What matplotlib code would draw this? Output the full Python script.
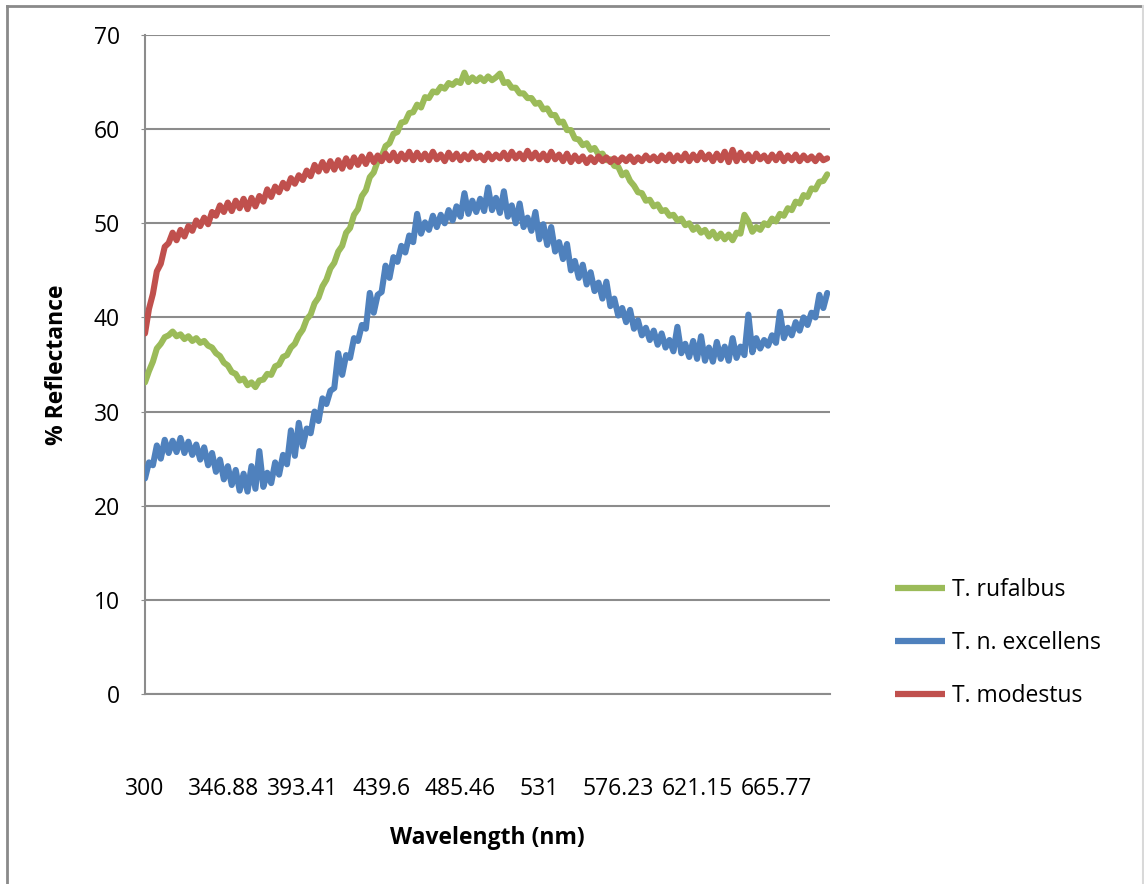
import matplotlib
matplotlib.use("Agg")
import matplotlib.pyplot as plt
from matplotlib.lines import Line2D
import numpy as np

plt.rcParams['font.family'] = ['Open Sans', 'DejaVu Sans']

# Category-axis labels (every 20th sample of the spectrometer grid)
tick_labels = ["300", "346.88", "393.41", "439.6", "485.46", "531",
               "576.23", "621.15", "665.77"]
samples_per_label = 20
n_categories = 173.7

series_names = ["T. rufalbus", "T. n. excellens", "T. modestus"]
series_colors = ["#9BBB59", "#4F81BD", "#C0504D"]

rufalbus = [
    33.1, 34.3, 35.3, 36.7, 37.2, 37.9, 38.1, 38.5, 38.0, 38.2,
    37.7, 38.0, 37.5, 37.8, 37.3, 37.5, 37.0, 36.8, 36.2, 35.9,
    35.2, 34.9, 34.2, 34.0, 33.3, 33.5, 32.8, 33.1, 32.6, 33.3,
    33.4, 34.0, 33.9, 34.8, 35.0, 35.8, 36.0, 36.8, 37.2, 38.1,
    38.7, 39.8, 40.3, 41.5, 42.1, 43.3, 44.0, 45.2, 45.8, 47.0,
    47.6, 49.0, 49.5, 50.9, 51.5, 52.9, 53.5, 54.9, 55.4, 56.6,
    57.1, 58.2, 58.5, 59.5, 59.7, 60.7, 60.8, 61.7, 61.8, 62.6,
    62.3, 63.4, 63.3, 64.0, 63.9, 64.5, 64.3, 64.9, 64.7, 65.1,
    64.9, 66.0, 65.0, 65.5, 65.1, 65.5, 65.1, 65.6, 65.2, 65.5,
    65.9, 64.9, 65.0, 64.4, 64.4, 63.8, 63.8, 63.3, 63.3, 62.7,
    62.8, 62.1, 62.2, 61.5, 61.5, 60.7, 60.8, 59.9, 59.9, 59.0,
    58.9, 58.3, 58.5, 57.8, 58.0, 57.3, 57.4, 56.7, 56.8, 56.1,
    56.0, 55.1, 55.4, 54.5, 54.0, 53.3, 53.2, 52.4, 52.5, 51.8,
    52.0, 51.3, 51.4, 50.8, 50.9, 50.3, 50.5, 49.8, 50.0, 49.3,
    49.6, 49.0, 49.3, 48.6, 49.1, 48.4, 48.9, 48.3, 48.8, 48.2,
    49.0, 48.9, 50.9, 50.2, 49.1, 49.6, 49.3, 50.0, 49.8, 50.5,
    50.2, 51.0, 50.8, 51.6, 51.4, 52.3, 52.1, 53.0, 52.8, 53.7,
    53.6, 54.4, 54.5, 55.2,
]

excellens = [
    22.9, 24.6, 24.3, 26.4, 25.0, 27.0, 25.6, 26.9, 25.7, 27.2,
    25.6, 26.8, 25.4, 26.5, 24.9, 26.2, 24.3, 25.6, 23.6, 24.9,
    22.8, 24.2, 22.2, 23.8, 21.6, 23.4, 21.5, 24.2, 21.8, 25.8,
    22.0, 23.5, 22.4, 24.6, 23.3, 25.4, 24.4, 28.0, 25.3, 28.8,
    26.3, 28.2, 27.7, 30.0, 29.0, 31.4, 30.8, 32.2, 32.5, 36.2,
    33.9, 36.0, 35.7, 37.8, 37.5, 39.2, 38.8, 42.6, 40.5, 42.4,
    42.7, 45.5, 44.2, 46.4, 45.9, 47.6, 46.9, 48.7, 48.0, 51.0,
    48.9, 50.1, 49.3, 50.8, 49.6, 50.9, 50.0, 51.4, 50.3, 51.8,
    50.7, 53.2, 51.0, 52.4, 51.2, 52.6, 51.3, 53.8, 51.4, 52.7,
    51.1, 53.4, 50.7, 51.9, 50.0, 52.1, 49.6, 50.6, 49.2, 51.2,
    48.3, 49.9, 47.7, 49.6, 47.0, 48.0, 46.2, 47.8, 45.0, 46.0,
    44.2, 45.6, 43.5, 44.8, 42.8, 43.7, 42.0, 43.8, 41.2, 42.0,
    40.2, 41.0, 39.5, 40.8, 38.8, 39.7, 38.1, 38.9, 37.6, 38.6,
    37.1, 38.3, 36.8, 37.6, 36.4, 39.0, 36.2, 37.2, 35.8, 37.5,
    35.6, 38.0, 35.4, 36.8, 35.3, 37.4, 35.6, 36.9, 35.4, 37.8,
    35.7, 36.9, 36.0, 40.3, 36.3, 37.8, 36.7, 37.6, 37.0, 38.1,
    37.3, 40.6, 37.8, 38.9, 38.1, 39.5, 38.6, 40.0, 39.2, 40.5,
    40.0, 42.4, 41.0, 42.6,
]

modestus = [
    38.3, 40.9, 42.5, 44.9, 45.7, 47.5, 47.9, 49.0, 48.2, 49.3,
    48.6, 49.7, 49.2, 50.3, 49.7, 50.6, 49.9, 51.2, 50.8, 51.9,
    51.2, 52.2, 51.3, 52.4, 51.6, 52.6, 51.5, 52.7, 51.8, 52.9,
    52.3, 53.6, 52.8, 53.9, 53.3, 54.3, 53.7, 54.8, 54.2, 55.1,
    54.6, 55.6, 55.0, 56.2, 55.5, 56.5, 55.6, 56.6, 55.7, 56.7,
    55.8, 56.9, 56.0, 57.0, 56.2, 57.1, 56.3, 57.3, 56.5, 57.2,
    56.6, 57.4, 56.7, 57.5, 56.6, 57.4, 56.8, 57.6, 56.7, 57.5,
    56.8, 57.4, 56.7, 57.6, 56.8, 57.3, 56.6, 57.5, 56.8, 57.4,
    56.7, 57.3, 56.8, 57.5, 56.9, 57.2, 56.7, 57.4, 56.8, 57.3,
    56.9, 57.5, 56.8, 57.6, 56.9, 57.4, 56.8, 57.7, 56.9, 57.5,
    56.8, 57.4, 56.7, 57.6, 56.8, 57.3, 56.6, 57.4, 56.5, 57.2,
    56.6, 57.1, 56.4, 57.0, 56.5, 57.1, 56.6, 57.0, 56.5, 56.9,
    56.5, 57.0, 56.6, 57.1, 56.5, 57.0, 56.6, 57.2, 56.7, 57.1,
    56.6, 57.2, 56.7, 57.3, 56.6, 57.2, 56.7, 57.4, 56.6, 57.3,
    56.7, 57.5, 56.8, 57.3, 56.6, 57.4, 56.7, 57.6, 56.5, 57.8,
    56.6, 57.5, 56.7, 57.3, 56.6, 57.4, 56.8, 57.2, 56.6, 57.3,
    56.7, 57.4, 56.6, 57.2, 56.7, 57.3, 56.6, 57.2, 56.7, 57.1,
    56.6, 57.2, 56.7, 56.9,
]

W, H = 1144, 884
fig = plt.figure(figsize=(W / 100, H / 100), dpi=100)
ax = fig.add_axes([145 / W, 1 - 694 / H, 685 / W, 659 / H])

grid_color = "#8C8C8C"
fs = 16.5

for values, name, color in zip([rufalbus, excellens, modestus],
                                series_names, series_colors):
    ax.plot(np.arange(len(values)), values, color=color, lw=4.4,
            solid_joinstyle="round", solid_capstyle="round", label=name,
            zorder=3)

ax.set_xlim(0, n_categories)
ax.set_ylim(0, 70)
ax.set_yticks(range(0, 71, 10))
ax.set_xticks([i * samples_per_label for i in range(len(tick_labels))])
ax.set_xticklabels(tick_labels)

ax.yaxis.grid(True, color=grid_color, lw=1.5)
ax.set_axisbelow(True)
for side in ("top", "right"):
    ax.spines[side].set_visible(False)
for side in ("left", "bottom"):
    ax.spines[side].set_color(grid_color)
    ax.spines[side].set_linewidth(1.5)

ax.tick_params(axis="y", length=3, color=grid_color, pad=15, labelsize=fs,
               labelcolor="black")
ax.tick_params(axis="x", length=0, pad=60, labelsize=fs, labelcolor="black")

ax.set_xlabel("Wavelength (nm)", fontsize=fs, fontweight="bold", va="center")
ax.xaxis.set_label_coords(0.5, (694 - 838) / 659)
ax.set_ylabel("% Reflectance", fontsize=fs, fontweight="bold",
              va="center", ha="center")
ax.yaxis.set_label_coords((57 - 145) / 685, 0.5)

leg = fig.legend(loc="center left", bbox_to_anchor=(895 / W, 1 - 643 / H),
                 frameon=False, fontsize=fs, handlelength=2.2,
                 handletextpad=0.3, labelspacing=1.25, borderpad=0,
                 borderaxespad=0)
for h in leg.get_lines():
    h.set_linewidth(4.5)
    h.set_solid_capstyle("butt")

# outer chart frame
fig.add_artist(Line2D([7 / W, 7 / W], [0, 1 - 6 / H], color="#8A8A8A", lw=2,
                      transform=fig.transFigure))
fig.add_artist(Line2D([7 / W, 1143 / W], [1 - 6 / H, 1 - 6 / H], color="#8A8A8A",
                      lw=2, transform=fig.transFigure))
fig.add_artist(Line2D([1143 / W, 1143 / W], [0, 1 - 6 / H], color="#D9D9D9",
                      lw=1.5, transform=fig.transFigure))

fig.savefig("out.png", dpi=100)
